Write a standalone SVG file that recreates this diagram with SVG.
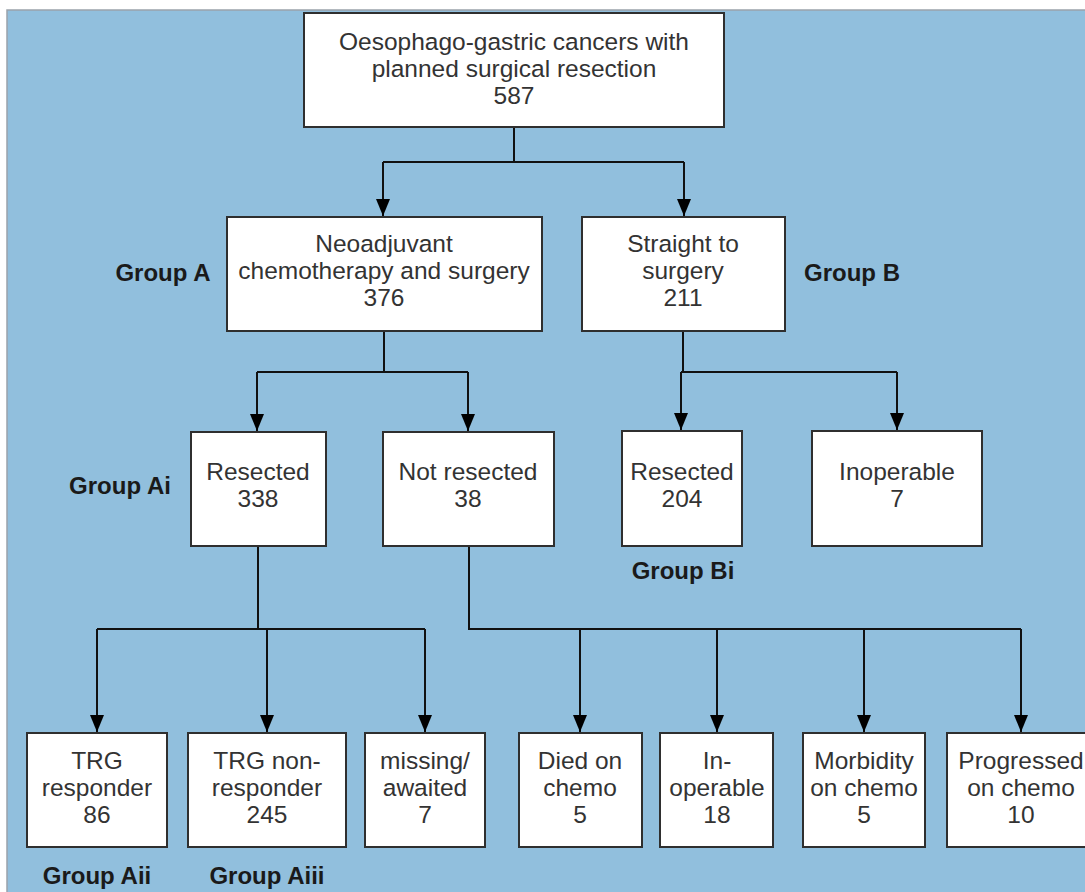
<svg xmlns="http://www.w3.org/2000/svg" width="1085" height="892" viewBox="0 0 1085 892">
  <style>
    .bg { fill: #91bfdd; stroke: #9aa3aa; stroke-width: 1.5; }
    .box { fill: #ffffff; stroke: #2f2f2f; stroke-width: 2; }
    .t { font-family: "Liberation Sans", Arial, sans-serif; font-size: 24.5px; fill: #333333; text-anchor: middle; }
    .lbl { font-family: "Liberation Sans", Arial, sans-serif; font-size: 24px; font-weight: bold; fill: #1a1a1a; text-anchor: middle; }
    .wire { fill: none; stroke: #111111; stroke-width: 2; }
  </style>
  <defs>
    <marker id="arrow" viewBox="0 0 17 14" refX="17" refY="7" markerWidth="17" markerHeight="14" markerUnits="userSpaceOnUse" orient="auto">
      <path d="M0,0 L17,7 L0,14 Z" fill="#000000"/>
    </marker>
  </defs>

  <rect width="1085" height="892" fill="#ffffff"/>
  <rect class="bg" x="7" y="10" width="1090" height="895"/>

  <!-- connectors -->
  <g id="connectors">
    <path class="wire" d="M514,127 V162 M383,162 H684"/>
    <path class="wire" d="M383,162 V216" marker-end="url(#arrow)"/>
    <path class="wire" d="M684,162 V216" marker-end="url(#arrow)"/>

    <path class="wire" d="M384,331 V372 M257,372 H468"/>
    <path class="wire" d="M257,372 V431" marker-end="url(#arrow)"/>
    <path class="wire" d="M468,372 V431" marker-end="url(#arrow)"/>

    <path class="wire" d="M683,331 V372 M681,372 H897"/>
    <path class="wire" d="M681,372 V430" marker-end="url(#arrow)"/>
    <path class="wire" d="M897,372 V430" marker-end="url(#arrow)"/>

    <path class="wire" d="M258,546 V629 M97,629 H425"/>
    <path class="wire" d="M97,629 V732" marker-end="url(#arrow)"/>
    <path class="wire" d="M267,629 V732" marker-end="url(#arrow)"/>
    <path class="wire" d="M425,629 V732" marker-end="url(#arrow)"/>

    <path class="wire" d="M469,546 V629 H1021"/>
    <path class="wire" d="M580,629 V732" marker-end="url(#arrow)"/>
    <path class="wire" d="M717,629 V732" marker-end="url(#arrow)"/>
    <path class="wire" d="M864,629 V732" marker-end="url(#arrow)"/>
    <path class="wire" d="M1021,629 V732" marker-end="url(#arrow)"/>
  </g>

  <!-- level 0 -->
  <g id="n-total">
    <rect class="box" x="304" y="13" width="420" height="114"/>
    <text class="t" x="514" y="50">Oesophago-gastric cancers with</text>
    <text class="t" x="514" y="77">planned surgical resection</text>
    <text class="t" x="514" y="104">587</text>
  </g>

  <!-- level 1 -->
  <g id="n-neoadjuvant">
    <rect class="box" x="227" y="217" width="315" height="114"/>
    <text class="t" x="384" y="252">Neoadjuvant</text>
    <text class="t" x="384" y="279">chemotherapy and surgery</text>
    <text class="t" x="384" y="306">376</text>
  </g>
  <g id="n-straight">
    <rect class="box" x="582" y="217" width="203" height="114"/>
    <text class="t" x="683" y="252">Straight to</text>
    <text class="t" x="683" y="279">surgery</text>
    <text class="t" x="683" y="306">211</text>
  </g>

  <!-- level 2 -->
  <g id="n-resected-a">
    <rect class="box" x="191" y="432" width="135" height="114"/>
    <text class="t" x="258" y="480">Resected</text>
    <text class="t" x="258" y="507">338</text>
  </g>
  <g id="n-not-resected">
    <rect class="box" x="383" y="432" width="171" height="114"/>
    <text class="t" x="468" y="480">Not resected</text>
    <text class="t" x="468" y="507">38</text>
  </g>
  <g id="n-resected-b">
    <rect class="box" x="622" y="431" width="120" height="115"/>
    <text class="t" x="682" y="480">Resected</text>
    <text class="t" x="682" y="507">204</text>
  </g>
  <g id="n-inoperable-b">
    <rect class="box" x="812" y="431" width="170" height="115"/>
    <text class="t" x="897" y="480">Inoperable</text>
    <text class="t" x="897" y="507">7</text>
  </g>

  <!-- level 3 -->
  <g id="n-trg-resp">
    <rect class="box" x="27" y="733" width="140" height="114"/>
    <text class="t" x="97" y="769">TRG</text>
    <text class="t" x="97" y="796">responder</text>
    <text class="t" x="97" y="823">86</text>
  </g>
  <g id="n-trg-nonresp">
    <rect class="box" x="188" y="733" width="158" height="114"/>
    <text class="t" x="267" y="769">TRG non-</text>
    <text class="t" x="267" y="796">responder</text>
    <text class="t" x="267" y="823">245</text>
  </g>
  <g id="n-missing">
    <rect class="box" x="365" y="733" width="120" height="114"/>
    <text class="t" x="425" y="769">missing/</text>
    <text class="t" x="425" y="796">awaited</text>
    <text class="t" x="425" y="823">7</text>
  </g>
  <g id="n-died">
    <rect class="box" x="519" y="733" width="123" height="114"/>
    <text class="t" x="580" y="769">Died on</text>
    <text class="t" x="580" y="796">chemo</text>
    <text class="t" x="580" y="823">5</text>
  </g>
  <g id="n-inoperable">
    <rect class="box" x="660" y="733" width="113" height="114"/>
    <text class="t" x="717" y="769">In-</text>
    <text class="t" x="717" y="796">operable</text>
    <text class="t" x="717" y="823">18</text>
  </g>
  <g id="n-morbidity">
    <rect class="box" x="803" y="733" width="122" height="114"/>
    <text class="t" x="864" y="769">Morbidity</text>
    <text class="t" x="864" y="796">on chemo</text>
    <text class="t" x="864" y="823">5</text>
  </g>
  <g id="n-progressed">
    <rect class="box" x="947" y="733" width="150" height="114"/>
    <text class="t" x="1021" y="769">Progressed</text>
    <text class="t" x="1021" y="796">on chemo</text>
    <text class="t" x="1021" y="823">10</text>
  </g>

  <!-- group labels -->
  <g id="labels">
    <text class="lbl" x="163" y="281">Group A</text>
    <text class="lbl" x="852" y="281">Group B</text>
    <text class="lbl" x="120" y="494">Group Ai</text>
    <text class="lbl" x="683" y="579">Group Bi</text>
    <text class="lbl" x="97" y="884">Group Aii</text>
    <text class="lbl" x="267" y="884">Group Aiii</text>
  </g>
</svg>
